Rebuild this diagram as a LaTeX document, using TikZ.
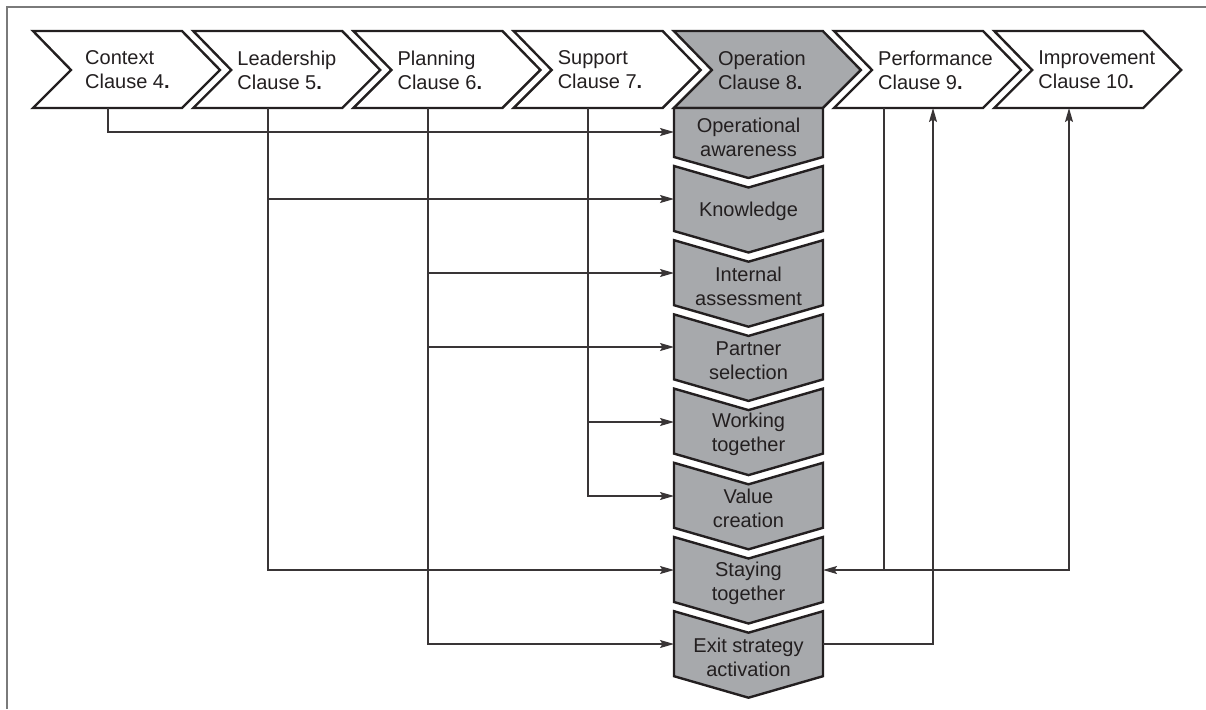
\documentclass[tikz,border=0pt]{standalone}
\usepackage{fontspec}
\setmainfont{Liberation Sans}
\usetikzlibrary{arrows.meta}
\definecolor{ink}{HTML}{231F20}
\definecolor{boxgray}{HTML}{A7A9AC}
\definecolor{framegray}{HTML}{7A7A7A}
\newcommand{\cl}[1]{Clause #1\textbf{.}}
\tikzset{
  chev/.style={draw=ink, line width=2.4pt, line join=miter, fill=white},
  chevg/.style={chev, fill=boxgray},
  toptext/.style={anchor=west, align=left, inner sep=0pt, text=ink, font=\fontsize{20}{24}\selectfont},
  vtext/.style={anchor=center, align=center, inner sep=0pt, text=ink, font=\fontsize{20}{24}\selectfont},
  conn/.style={draw=ink!90, line width=1.3pt},
  arr/.style={conn, -{Stealth[length=14pt, width=8pt, inset=2.5pt]}},
}
\begin{document}
\begin{tikzpicture}[x=1pt, y=-1pt]
\useasboundingbox (0,0) rectangle (1206,709);
% frame (partial)
\draw[framegray, line width=1.5pt] (7,709) -- (7,7) -- (1206,7);

% top chevrons
\foreach \i/\st in {0/chev,1/chev,2/chev,3/chev,4/chevg,5/chev,6/chev}{
  \pgfmathsetmacro{\L}{33+160.2*\i}
  \path[\st] (\L,31) -- (\L+149,31) -- (\L+187,70) -- (\L+149,108) -- (\L,108) -- (\L+38,70) -- cycle;
}
\node[toptext] (ctx)  at (85,70)     {Context\\\cl{4}};
\node[toptext] (lead) at (237.2,70)  {Leadership\\\cl{5}};
\node[toptext] (plan) at (397.4,70)  {Planning\\\cl{6}};
\node[toptext] (sup)  at (557.6,70)  {Support\\\cl{7}};
\node[toptext] (op)   at (717.8,70)  {Operation\\\cl{8}};
\node[toptext] (perf) at (878,70)    {Performance\\\cl{9}};
\node[toptext] (imp)  at (1038.2,70) {Improvement\\\cl{10}};

% vertical chevrons
\path[chevg] (674,108) -- (823,108) -- (823,157) -- (748.5,178) -- (674,157) -- cycle;
\foreach \k in {0,...,6}{
  \pgfmathsetmacro{\T}{166+74.2*\k}
  \path[chevg] (674,\T) -- (748.5,\T+21.5) -- (823,\T) -- (823,\T+65) -- (748.5,\T+86.5) -- (674,\T+65) -- cycle;
}
\node[vtext] (oa) at (748.5,137)   {Operational\\awareness};
\node[vtext] (kn) at (748.5,211)   {Knowledge};
\node[vtext] (ia) at (748.5,286.2) {Internal\\assessment};
\node[vtext] (ps) at (748.5,360.4) {Partner\\selection};
\node[vtext] (wt) at (748.5,434.6) {Working\\together};
\node[vtext] (vc) at (748.5,508.8) {Value\\creation};
\node[vtext] (st) at (748.5,583)   {Staying\\together};
\node[vtext] (es) at (748.5,657.2) {Exit strategy\\activation};

% connector end points
\coordinate (ctx-out)  at (108,108);
\coordinate (lead-out) at (268,108);
\coordinate (plan-out) at (428,108);
\coordinate (sup-out)  at (588,108);
\coordinate (perf-out) at (884,108);
\coordinate (perf-in)  at (933,108);
\coordinate (imp-in)   at (1069,108);
\coordinate (oa-in) at (674,132);
\coordinate (kn-in) at (674,199);
\coordinate (ia-in) at (674,273);
\coordinate (ps-in) at (674,347);
\coordinate (wt-in) at (674,422);
\coordinate (vc-in) at (674,496);
\coordinate (st-in) at (674,570);
\coordinate (es-in) at (674,644);
\coordinate (st-out) at (823,570);
\coordinate (es-out) at (823,644);

% connectors
\draw[arr] (ctx-out) |- (oa-in);
\draw[arr] (lead-out) |- (st-in);
\draw[arr] (lead-out |- kn-in) -- (kn-in);
\draw[arr] (plan-out) |- (es-in);
\draw[arr] (plan-out |- ia-in) -- (ia-in);
\draw[arr] (plan-out |- ps-in) -- (ps-in);
\draw[arr] (sup-out) |- (vc-in);
\draw[arr] (sup-out |- wt-in) -- (wt-in);
\draw[arr] (perf-out) |- (st-out);
\draw[arr] (perf-out |- st-out) -| (imp-in);
\draw[arr] (es-out) -| (perf-in);
\end{tikzpicture}
\end{document}
